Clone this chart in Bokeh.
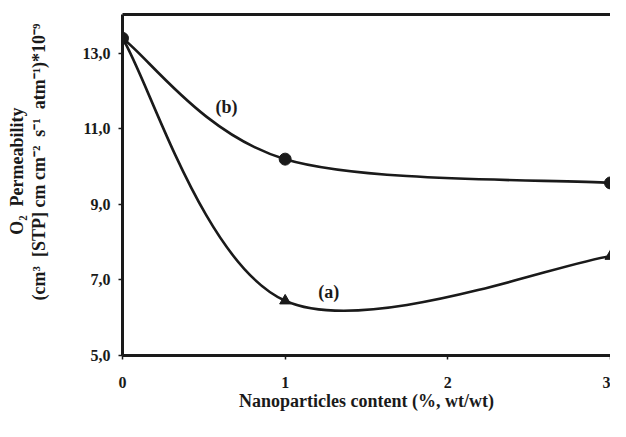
from bokeh.plotting import figure
from bokeh.models import FixedTicker, LinearAxis, ColumnDataSource, Range1d, Title
from bokeh.core.properties import value
from bokeh.embed import file_html
from bokeh.resources import INLINE

# Data
content = [0, 1, 3]
perm_a = [13.4, 6.45, 7.63]
perm_b = [13.4, 10.2, 9.57]

xticks = [0, 1, 2, 3]
xtick_labels = ["0", "1", "2", "3"]
yticks = [5, 7, 9, 11, 13]
ytick_labels = ["5,0", "7,0", "9,0", "11,0", "13,0"]

FONT = "Liberation Serif"
INK = "#1a1a1a"


def smooth_segments(xs, ys):
    """Excel-like smoothed line: cubic Bezier segments (Catmull-Rom control points)."""
    n = len(xs)
    seg = dict(x0=[], y0=[], x1=[], y1=[], cx0=[], cy0=[], cx1=[], cy1=[])
    for i in range(n - 1):
        xp, yp = (xs[i - 1], ys[i - 1]) if i > 0 else (xs[i], ys[i])
        xn, yn = (xs[i + 2], ys[i + 2]) if i + 2 < n else (xs[i + 1], ys[i + 1])
        seg["x0"].append(xs[i]); seg["y0"].append(ys[i])
        seg["x1"].append(xs[i + 1]); seg["y1"].append(ys[i + 1])
        seg["cx0"].append(xs[i] + (xs[i + 1] - xp) / 6.0)
        seg["cy0"].append(ys[i] + (ys[i + 1] - yp) / 6.0)
        seg["cx1"].append(xs[i + 1] - (xn - xs[i]) / 6.0)
        seg["cy1"].append(ys[i + 1] - (yn - ys[i]) / 6.0)
    return ColumnDataSource(seg)


p = figure(width=610, height=421, output_backend="svg", toolbar_location=None,
           x_range=Range1d(0, 3), y_range=Range1d(5, 14.03),
           min_border_left=122, min_border_right=0, min_border_top=14, min_border_bottom=66)
p.outline_line_color = None
p.grid.visible = False
p.background_fill_color = "white"
p.border_fill_color = "white"

for src in (smooth_segments(content, perm_a), smooth_segments(content, perm_b)):
    p.bezier(x0="x0", y0="y0", x1="x1", y1="y1", cx0="cx0", cy0="cy0", cx1="cx1", cy1="cy1",
             source=src, line_color=INK, line_width=2.6)

p.scatter(content, perm_a, marker="triangle", size=11, color=INK)
p.scatter(content, perm_b, marker="circle", size=12, color=INK)

p.text(x=[1.268], y=[6.69], text=["(a)"], text_font=value(FONT), text_font_style="bold",
       text_font_size="18px", text_align="center", text_baseline="middle", text_color=INK)
p.text(x=[0.639], y=[11.58], text=["(b)"], text_font=value(FONT), text_font_style="bold",
       text_font_size="18px", text_align="center", text_baseline="middle", text_color=INK)

for ax in (p.xaxis[0], p.yaxis[0]):
    ax.axis_line_width = 3
    ax.axis_line_color = INK
    ax.major_tick_line_color = INK
    ax.major_tick_line_width = 1.5
    ax.major_tick_in = 0
    ax.major_tick_out = 4
    ax.minor_tick_line_color = None
    ax.major_label_text_font = FONT
    ax.major_label_text_font_style = "bold"
    ax.major_label_text_font_size = "16px"
    ax.major_label_text_color = INK
    ax.axis_label_text_font = FONT
    ax.axis_label_text_font_style = "bold"
    ax.axis_label_text_font_size = "18px"
    ax.axis_label_text_color = INK

p.xaxis.ticker = FixedTicker(ticks=xticks)
p.xaxis.major_label_overrides = dict(zip(xticks, xtick_labels))
p.xaxis.major_label_standoff = 17
p.xaxis.axis_label = "Nanoparticles content (%, wt/wt)"
p.xaxis.axis_label_standoff = 0

p.yaxis.ticker = FixedTicker(ticks=yticks)
p.yaxis.major_label_overrides = dict(zip(yticks, ytick_labels))
p.yaxis.major_label_standoff = 8

# y-axis title: an invisible spacer, then the two lines as side titles (inner first)
p.add_layout(Title(text="\u00a0", text_font_size="1px", standoff=28), "left")
ylabel_lines = ["O\u2082\u00a0 Permeability",
                "(cm\u00b3\u00a0 [STP] cm cm\u207b\u00b2\u00a0 s\u207b\u00b9\u00a0 atm\u207b\u00b9)*10\u207b\u2079"]
for txt, off in ((ylabel_lines[1], 9), (ylabel_lines[0], 93)):
    p.add_layout(Title(text=txt, align="right", vertical_align="bottom", offset=off, standoff=0,
                       text_font=FONT, text_font_style="bold", text_font_size="18px",
                       text_color=INK), "left")

top = LinearAxis(ticker=FixedTicker(ticks=[]), axis_line_width=3, axis_line_color=INK,
                 major_tick_line_color=None, minor_tick_line_color=None,
                 major_label_text_font_size="0px")
p.add_layout(top, "above")

open("out.html", "w").write(file_html(p, INLINE))
